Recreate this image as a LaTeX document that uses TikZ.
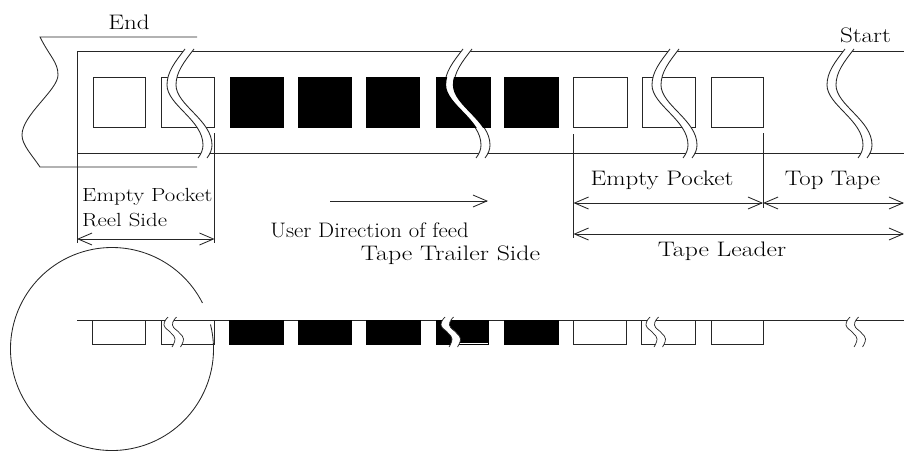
\documentclass[tikz,border=0pt]{standalone}
\usepackage{graphicx}
\usetikzlibrary{arrows.meta}
\tikzset{
  ln/.style={line width=0.85pt,black!85},
  dimline/.style={ln,{Straight Barb[length=14pt,width=12pt]}-{Straight Barb[length=14pt,width=12pt]}},
  feedline/.style={ln,-{Straight Barb[length=14pt,width=12pt]}},
  pocket/.style={ln,fill=white},
  fullpocket/.style={fill=black,draw=black,line width=0.6pt},
  lab/.style={inner sep=0pt,font=\fontsize{21}{21}\selectfont},
  smalllab/.style={inner sep=0pt,font=\fontsize{19}{19}\selectfont},
}
\newcommand{\widetext}[2]{\scalebox{#1}[1]{#2}}
\newcommand{\cutcurve}{(0,49) .. controls (-10,62) and (-18,72) .. (-18,85)
   .. controls (-18,105) and (18,120) .. (18,145) .. controls (18,150) and (16,154) .. (13,158)}
\newcommand{\tapecutbig}[1]{%
  \begin{scope}[shift={(#1,0)}]
    \fill[white] \cutcurve -- (22,158) .. controls (25,154) and (27,150) .. (27,145)
      .. controls (27,120) and (-9,105) .. (-9,85) .. controls (-9,72) and (-1,62) .. (9,49) -- cycle;
    \draw[ln] \cutcurve;
    \draw[ln,xshift=9pt] \cutcurve;
  \end{scope}}
\newcommand{\tapecutsmall}[1]{%
  \begin{scope}[shift={(#1,0)}]
    \fill[white] plot[smooth,tension=0.8] coordinates {(0,317)(-4,325)(3,333)(7,339)(4,347)}
      -- plot[smooth,tension=0.8] coordinates {(12.5,347)(15.5,339)(11.5,333)(4.5,325)(8.5,317)} -- cycle;
    \draw[ln,line width=0.7pt] plot[smooth,tension=0.8] coordinates {(0,317)(-4,325)(3,333)(7,339)(4,347)};
    \draw[ln,line width=0.7pt] plot[smooth,tension=0.8] coordinates {(8.5,317)(4.5,325)(11.5,333)(15.5,339)(12.5,347)};
  \end{scope}}
\begin{document}
\begin{tikzpicture}[x=1pt,y=-1pt]
\useasboundingbox (0,0) rectangle (904,450);
% top view: tape
\draw[ln] (904,51.5) -- (77,51.5) -- (77,243);
\draw[ln] (77,153) -- (904,153);
% reel-end torn outline
\draw[ln] (197,37) -- (40,37) .. controls (50,57) and (58,62) .. (58,75)
  .. controls (58,90) and (22,115) .. (22,135) .. controls (22,145) and (32,155) .. (40,167) -- (197,167);
% top pockets
\foreach \xa/\xb in {93/145.5,161.5/214.5,573.5/627,642/695,711/763}
  \draw[pocket] (\xa,77.5) rectangle (\xb,127.5);
\foreach \xa/\xb in {230.5/283,298.5/351,366.5/419,436.5/490,504.5/558}
  \draw[fullpocket] (\xa,77.5) rectangle (\xb,127.5);
% dimension lines
\draw[ln] (214.5,133) -- (214.5,243);
\draw[ln] (573.5,134) -- (573.5,238);
\draw[ln] (763,133) -- (763,208);
% top breaks
\tapecutbig{185}
\tapecutbig{463}
\tapecutbig{670}
\tapecutbig{845}
% narrower white band where the cut crosses the filled pocket
\begin{scope}
  \clip (436.5,77.5) rectangle (490,127.5);
  \begin{scope}[shift={(463,0)}]
    \draw[black,line width=2.2pt] \cutcurve;
    \draw[black,line width=2.2pt,xshift=9pt] \cutcurve;
  \end{scope}
\end{scope}
\draw[dimline] (77,239) -- (214.5,239);
\draw[dimline] (573.5,203) -- (763,203);
\draw[dimline] (763,203) -- (904,203);
\draw[dimline] (573.5,234) -- (904,234);
\draw[feedline] (330,201) -- (488,201);
% labels
\node[lab] (endlab) at (129,22) {\widetext{1.19}{End}};
\node[lab] (startlab) at (865.5,35) {\widetext{1.19}{Start}};
\node[smalllab,anchor=west] (eplab) at (82,197) {\widetext{1.2}{Empty Pocket}};
\node[smalllab,anchor=west] (rslab) at (82,220) {\widetext{1.2}{Reel Side}};
\node[lab] (uselab) at (369.5,230) {\widetext{1.08}{User Direction of feed}};
\node[lab] (ttlab) at (450.5,255) {\widetext{1.23}{Tape Trailer Side}};
\node[lab] (ep2lab) at (662,180) {\widetext{1.19}{Empty Pocket}};
\node[lab] (toplab) at (832.5,180) {\widetext{1.18}{Top Tape}};
\node[lab] (tllab) at (722,251) {\widetext{1.22}{Tape Leader}};
% side view
\draw[ln] (77,320) -- (904,320);
\foreach \xa/\xb in {92.5/145.5,161.5/214,573.5/626,641/695,711/763}
  \draw[pocket] (\xa,320) rectangle (\xb,344.5);
\foreach \xa/\xb in {229.5/283,298/351,366/420,436/488,504.5/558}
  \draw[fullpocket] (\xa,320) rectangle (\xb,344.5);
\draw[white,line width=0.7pt] (457,343.2) -- (488,343.2);
\draw[ln] (112,349) ++(-14:101.5) arc[start angle=-14,end angle=333,radius=101.5];
\tapecutsmall{168}
\tapecutsmall{445}
\tapecutsmall{650}
\tapecutsmall{850}
\end{tikzpicture}
\end{document}
